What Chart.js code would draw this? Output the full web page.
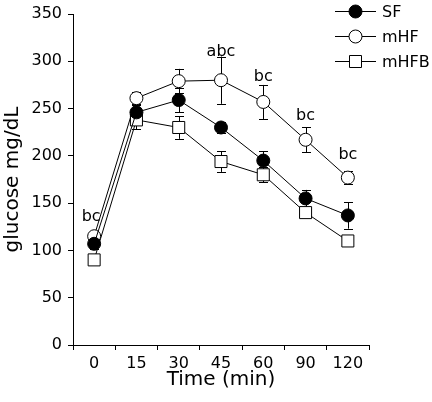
<!DOCTYPE html>
<html>
<head>
<meta charset="utf-8">
<script src="https://cdn.jsdelivr.net/npm/chart.js@4/dist/chart.umd.min.js"></script>
<style>
  html, body { margin: 0; padding: 0; background: #fff; }
  #wrap { width: 432px; height: 402px; }
</style>
</head>
<body>
<div id="wrap"><canvas id="glucoseChart" width="432" height="402"></canvas></div>
<script>
var timeLabels = ['0', '15', '30', '45', '60', '90', '120'];
var seriesNames = ['SF', 'mHF', 'mHFB'];

var sfMean = [107, 246, 259, 230, 195, 155, 137];
var mhfMean = [115, 261, 279, 280, 257, 217, 177];
var mhfbMean = [90, 238, 230, 194, 180, 140, 110];

var sfErr = [5, 9, 13, 6, 10, 9, 14];
var mhfErr = [3, 7, 13, 25, 18, 13, 7];
var mhfbErr = [4, 10, 12, 11, 8, 5, 4];

var yTicks = [0, 50, 100, 150, 200, 250, 300, 350];

// significance letters and the value of their baseline
var sigText = ['bc', '', '', 'abc', 'bc', 'bc', 'bc'];
var sigAt = [131, null, null, 306, 279, 238, 197];

var fontFam = '"DejaVu Sans", sans-serif';

var errors = [sfErr, mhfErr, mhfbErr];

/* error bars, drawn under the markers */
var errorBarPlugin = {
  id: 'errorBars',
  beforeDatasetsDraw: function(chart) {
    var c = chart.ctx;
    var ys = chart.scales.y;
    c.save();
    c.strokeStyle = '#000';
    c.lineWidth = 1;
    chart.data.datasets.forEach(function(ds, i) {
      var meta = chart.getDatasetMeta(i);
      meta.data.forEach(function(pt, j) {
        var e = errors[i][j];
        var top = ys.getPixelForValue(ds.data[j] + e);
        var bot = ys.getPixelForValue(ds.data[j] - e);
        var x = Math.round(pt.x) + 0.5;
        c.beginPath();
        c.moveTo(x, top); c.lineTo(x, bot);
        c.moveTo(x - 4.5, Math.round(top) + 0.5); c.lineTo(x + 4.5, Math.round(top) + 0.5);
        c.moveTo(x - 4.5, Math.round(bot) + 0.5); c.lineTo(x + 4.5, Math.round(bot) + 0.5);
        c.stroke();
      });
    });
    c.restore();
  }
};

/* letters above the points and the legend at top right */
var extrasPlugin = {
  id: 'extras',
  afterDraw: function(chart) {
    var c = chart.ctx;
    var xs = chart.scales.x, ys = chart.scales.y;
    c.save();
    c.fillStyle = '#000';
    c.font = '16px ' + fontFam;
    c.textAlign = 'center';
    c.textBaseline = 'alphabetic';
    sigText.forEach(function(t, j) {
      if (!t) return;
      c.fillText(t, xs.getPixelForValue(j) - (j === 0 ? 3 : 0), ys.getPixelForValue(sigAt[j]));
    });

    var rows = [11, 36, 61];
    c.textAlign = 'left';
    c.textBaseline = 'middle';
    c.lineWidth = 1;
    c.strokeStyle = '#000';
    seriesNames.forEach(function(name, i) {
      var y = rows[i] + 0.5;
      c.beginPath();
      c.moveTo(335, y); c.lineTo(376, y);
      c.stroke();
      c.beginPath();
      if (i === 2) {
        c.rect(349.5, y - 6, 12, 12);
      } else {
        c.arc(355.5, y, 6.5, 0, Math.PI * 2);
      }
      c.fillStyle = i === 0 ? '#000' : '#fff';
      c.fill();
      c.stroke();
      c.fillStyle = '#000';
      c.fillText(name, 382, y + 1);
    });
    c.restore();
  }
};

var ctx = document.getElementById('glucoseChart');

function makeSet(label, data, style, fill, radius) {
  return {
    label: label,
    data: data,
    borderColor: '#000',
    borderWidth: 1,
    pointStyle: style,
    pointRadius: radius,
    pointHoverRadius: radius,
    pointBackgroundColor: fill,
    pointBorderColor: '#000',
    pointBorderWidth: 1,
    tension: 0,
    fill: false
  };
}

new Chart(ctx, {
  type: 'line',
  data: {
    labels: timeLabels,
    datasets: [
      makeSet('SF', sfMean, 'circle', '#000', 6.5),
      makeSet('mHF', mhfMean, 'circle', '#fff', 6.5),
      makeSet('mHFB', mhfbMean, 'rect', '#fff', 8.5)
    ]
  },
  options: {
    responsive: false,
    animation: false,
    layout: { padding: { top: 2, right: 63, bottom: 12, left: 3 } },
    plugins: {
      legend: { display: false },
      tooltip: { enabled: false }
    },
    scales: {
      x: {
        type: 'category',
        offset: true,
        grid: { offset: true, drawOnChartArea: false, drawTicks: true, tickLength: 5, color: '#000' },
        border: { color: '#000', width: 1 },
        ticks: { color: '#000', padding: 6, maxRotation: 0, font: { size: 16, family: fontFam, lineHeight: 1 } },
        title: { display: true, text: 'Time (min)', color: '#000', padding: 0, font: { size: 20, family: fontFam, lineHeight: 1 } },
        afterFit: function(axis) { axis.height = 45; }
      },
      y: {
        min: 0,
        max: 350,
        afterBuildTicks: function(axis) { axis.ticks = yTicks.map(function(v) { return { value: v }; }); },
        grid: { drawOnChartArea: false, drawTicks: true, tickLength: 5, color: '#000' },
        border: { color: '#000', width: 1 },
        ticks: { color: '#000', padding: 6, font: { size: 16, family: fontFam, lineHeight: 1 } },
        title: { display: true, text: 'glucose mg/dL', color: '#000', padding: 0, font: { size: 20, family: fontFam, lineHeight: 1 } },
        afterFit: function(axis) { axis.width = 70; }
      }
    }
  },
  plugins: [errorBarPlugin, extrasPlugin]
});
</script>
</body>
</html>
